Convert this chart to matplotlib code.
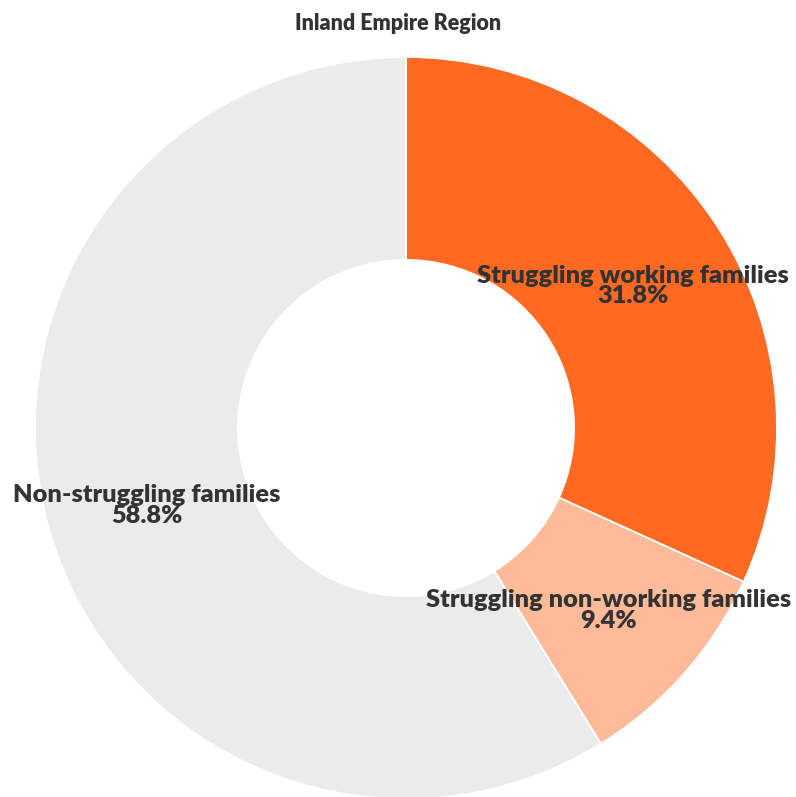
import numpy as np
import matplotlib
matplotlib.use("Agg")
import matplotlib.pyplot as plt

categories = ["Struggling working families", "Struggling non-working families", "Non-struggling families"]
values = [31.8, 9.4, 58.8]
colors = ["#FF6922", "#FFBA99", "#EBEBEB"]
title = "Inland Empire Region"

W, H = 796, 797
fig = plt.figure(figsize=(W / 100, H / 100), dpi=100)
ax = fig.add_axes([0, 0, 1, 1])

cx, cy, R = 406, 428, 371
inner = 0.453
wedges, _ = ax.pie(values, colors=colors, startangle=90, counterclock=False,
                   radius=1.0, wedgeprops=dict(width=1 - inner, edgecolor="white", linewidth=1.3))

ax.set_xlim(-cx / R, (W - cx) / R)
ax.set_ylim(-(H - cy) / R, cy / R)
ax.set_aspect("auto")
ax.axis("off")

renderer = fig.canvas.get_renderer()

def fit(t, target_px):
    w = t.get_window_extent(renderer).width
    t.set_fontsize(t.get_fontsize() * target_px / w)

total = sum(values)
start = 90.0
rlab = (1 + inner) / 2
dy = -4 / R
texts = []
for cat, v in zip(categories, values):
    span = 360 * v / total
    mid = np.deg2rad(start - span / 2)
    start -= span
    t = ax.text(rlab * np.cos(mid), rlab * np.sin(mid) + dy, f"{cat}\n{v:.1f}%",
                ha="center", va="center", fontsize=15, fontweight="heavy",
                color="#333333", family="Lato", linespacing=0.92)
    texts.append(t)
fit(texts[0], 314)
for t in texts[1:]:
    t.set_fontsize(texts[0].get_fontsize())

tt = fig.text(0.5, 1 - 23 / H, title, ha="center", va="center", fontsize=11,
              fontweight="heavy", color="#333333", family="Lato")
fit(tt, 207)

fig.savefig("out.png", dpi=100, facecolor="white")
